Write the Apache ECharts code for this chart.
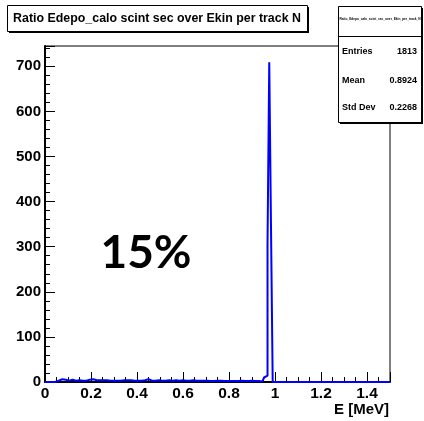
<!DOCTYPE html>
<html><head><meta charset="utf-8">
<script src="https://cdn.jsdelivr.net/npm/echarts@6/dist/echarts.min.js"></script>
<style>html,body{margin:0;padding:0;background:#fff}#c{width:424px;height:421px}</style>
</head><body><div id="c"></div>
<script>
const titleText = "Ratio Edepo_calo scint sec over Ekin per track N";
const xAxisTitle = "E [MeV]";
const histName = "Ratio_Edepo_calo_scint_sec_over_Ekin_per_track_N";
const binLow = 0;
const binWidth = 0.0075;
const counts = [
  0,0,0,0,0,0,0,
  3,5,6,4,5,4,3,4,5,4,
  3,4,4,5,3,4,3,4,5,4,
  6,5,4,3,4,3,4,3,4,3,
  3,4,3,4,3,4,3,3,4,3,
  4,3,4,3,3,4,3,4,3,3,
  4,5,6,4,3,4,3,3,4,3,
  3,4,3,3,4,3,3,3,4,3,
  3,3,4,3,3,2,3,3,4,3,
  3,2,3,3,3,2,3,3,2,3,
  2,3,3,2,3,3,2,3,2,3,
  2,3,2,3,2,2,3,2,2,3,
  2,2,3,2,2,1,2,2,1,2,
  10,14,306,709,348,
  0,0,0,0,0,0,0,0,0,0,0,0,0,0,0,0,0,0,0,0,0,0,0,0,0,0,0,0,0,0,0,0,0,0,
  0,0,0,0,0,0,0,0,0,0,0,0,0,0,0,0,0,0,0,0,0,0,0,0,0,0,0,0,0,0,0,0,0,0
];
const statLabels = ["Entries", "Mean", "Std Dev"];
const statValues = ["1813", "0.8924", "0.2268"];
const annotation = "15%";
const xMin = 0, xMax = 1.5, xStep = 0.2;
const yMin = 0, yMax = 745, yStep = 100;

const pts = counts.map((v, i) => [binLow + i * binWidth, v]);
pts.push([binLow + counts.length * binWidth, counts[counts.length - 1]]);

const chart = echarts.init(document.getElementById('c'), null, {renderer: 'canvas'});
const bold = {fontFamily: 'Liberation Sans, Arial, sans-serif', fontWeight: 'bold', color: '#000'};
const gx = 45, gy = 46, gr = 390, gb = 382;

const graphics = [];
// title box
graphics.push({type: 'rect', shape: {x: 9, y: 7, width: 300, height: 26}, style: {fill: '#000'}, z: 100});
graphics.push({type: 'rect', shape: {x: 7.5, y: 5.5, width: 300, height: 26}, style: {fill: '#fff', stroke: '#000', lineWidth: 1}, z: 101});
graphics.push({type: 'text', x: 157, y: 18.5, style: Object.assign({text: titleText, fontSize: 12.4, align: 'center', verticalAlign: 'middle'}, bold), z: 102});
// stat box
graphics.push({type: 'rect', shape: {x: 340, y: 8, width: 83, height: 116}, style: {fill: '#000'}, z: 100});
graphics.push({type: 'rect', shape: {x: 338.5, y: 6.5, width: 83, height: 116}, style: {fill: '#fff', stroke: '#000', lineWidth: 1}, z: 101});
graphics.push({type: 'line', shape: {x1: 338.5, y1: 36.5, x2: 421.5, y2: 36.5}, style: {stroke: '#000', lineWidth: 1}, z: 102});
graphics.push({type: 'text', x: 380, y: 19, style: Object.assign({text: histName, fontSize: 3.2, align: 'center', verticalAlign: 'middle'}, bold), z: 102});
const rowsY = [52, 81, 108];
statLabels.forEach((l, i) => {
  graphics.push({type: 'text', x: 342, y: rowsY[i], style: Object.assign({text: l, fontSize: 9, align: 'left', verticalAlign: 'middle'}, bold), z: 102});
  graphics.push({type: 'text', x: 417, y: rowsY[i], style: Object.assign({text: statValues[i], fontSize: 9, align: 'right', verticalAlign: 'middle'}, bold), z: 102});
});
// x axis title
graphics.push({type: 'text', x: 389, y: 410, style: Object.assign({text: xAxisTitle, fontSize: 15, align: 'right', verticalAlign: 'middle'}, bold), z: 102});
// annotation
graphics.push({type: 'text', x: 146, y: 253, style: {text: annotation, fontSize: 46, fontWeight: 'bold', fontFamily: 'Lato, sans-serif', fill: '#000', align: 'center', verticalAlign: 'middle'}, z: 102});

chart.setOption({
  animation: false,
  backgroundColor: '#fff',
  grid: {left: gx, top: gy, right: 424 - gr, bottom: 421 - gb, show: true, borderColor: '#000', borderWidth: 1, backgroundColor: 'transparent'},
  xAxis: {
    type: 'value', min: xMin, max: xMax, interval: xStep,
    axisLine: {show: true, onZero: false, lineStyle: {color: '#000', width: 2}},
    axisTick: {show: true, inside: true, length: 10, lineStyle: {color: '#000', width: 1}},
    minorTick: {show: true, splitNumber: 4, length: 5, lineStyle: {color: '#000', width: 1}},
    splitLine: {show: false},
    axisLabel: {showMaxLabel: false, fontSize: 15.5, fontWeight: 'bold', fontFamily: 'Liberation Sans, Arial, sans-serif', color: '#000', margin: 4}
  },
  yAxis: {
    type: 'value', min: yMin, max: yMax, interval: yStep,
    axisLine: {show: true, onZero: false, lineStyle: {color: '#000', width: 2}},
    axisTick: {show: true, inside: true, length: 10, lineStyle: {color: '#000', width: 1}},
    minorTick: {show: true, splitNumber: 5, length: 5, lineStyle: {color: '#000', width: 1}},
    splitLine: {show: false},
    axisLabel: {showMaxLabel: false, fontSize: 15, fontWeight: 'bold', fontFamily: 'Liberation Sans, Arial, sans-serif', color: '#000', margin: 4}
  },
  series: [{
    type: 'line', step: 'end', data: pts, symbol: 'none',
    lineStyle: {color: '#0000ff', width: 2}, clip: true
  }],
  graphic: graphics
});
</script></body></html>
